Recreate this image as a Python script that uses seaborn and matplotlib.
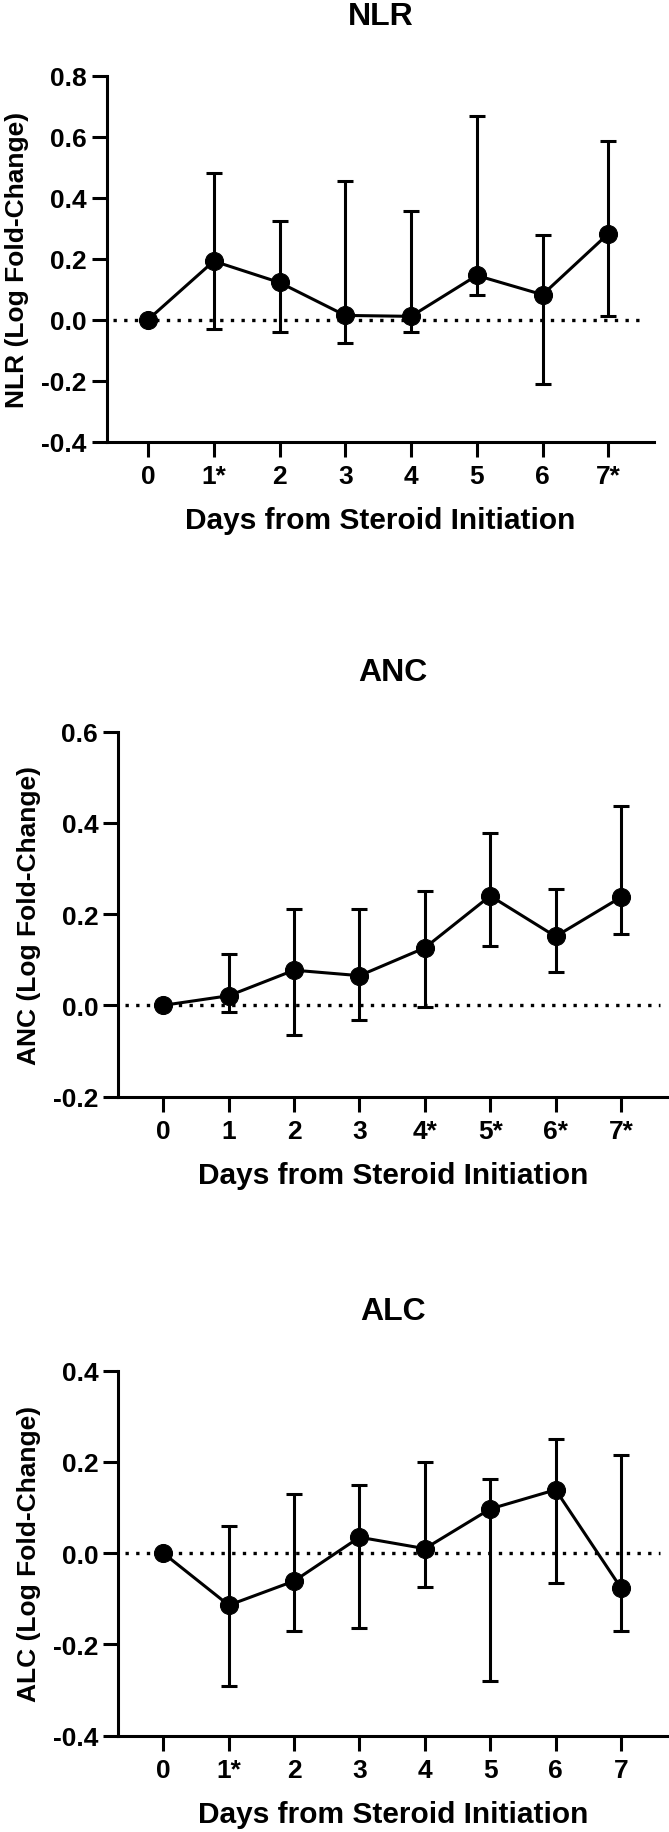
import numpy as np
import pandas as pd
import matplotlib
matplotlib.use("Agg")
import matplotlib.pyplot as plt
import seaborn as sns

# ---------------- data ----------------
days = [0, 1, 2, 3, 4, 5, 6, 7]
x_title = "Days from Steroid Initiation"

nlr_ticks = ["0", "1*", "2", "3", "4", "5", "6", "7*"]
nlr_mean = [0.0, 0.192, 0.122, 0.014, 0.011, 0.145, 0.082, 0.282]
nlr_upper = [0.0, 0.481, 0.325, 0.456, 0.357, 0.667, 0.278, 0.585]
nlr_lower = [0.0, -0.029, -0.041, -0.077, -0.039, 0.081, -0.212, 0.013]

anc_ticks = ["0", "1", "2", "3", "4*", "5*", "6*", "7*"]
anc_mean = [0.0, 0.021, 0.077, 0.065, 0.126, 0.240, 0.151, 0.237]
anc_upper = [0.0, 0.112, 0.212, 0.212, 0.250, 0.377, 0.254, 0.437]
anc_lower = [0.0, -0.014, -0.066, -0.032, -0.004, 0.129, 0.074, 0.157]

alc_ticks = ["0", "1*", "2", "3", "4", "5", "6", "7"]
alc_mean = [0.0, -0.114, -0.061, 0.035, 0.010, 0.097, 0.139, -0.076]
alc_upper = [0.0, 0.059, 0.129, 0.150, 0.200, 0.163, 0.250, 0.215]
alc_lower = [0.0, -0.291, -0.171, -0.164, -0.073, -0.280, -0.066, -0.171]

panels = [
    dict(name="NLR", ticks=nlr_ticks, mean=nlr_mean, up=nlr_upper, lo=nlr_lower,
         ylim=(-0.4, 0.8), yticks=[-0.4, -0.2, 0.0, 0.2, 0.4, 0.6, 0.8],
         box=(106.7, 654.0, 76.7, 442.7), xlim=(-0.628, 7.695)),
    dict(name="ANC", ticks=anc_ticks, mean=anc_mean, up=anc_upper, lo=anc_lower,
         ylim=(-0.2, 0.6), yticks=[-0.2, 0.0, 0.2, 0.4, 0.6],
         box=(118.3, 668.0, 732.7, 1097.5), xlim=(-0.69, 7.72)),
    dict(name="ALC", ticks=alc_ticks, mean=alc_mean, up=alc_upper, lo=alc_lower,
         ylim=(-0.4, 0.4), yticks=[-0.4, -0.2, 0.0, 0.2, 0.4],
         box=(118.3, 668.0, 1371.7, 1736.7), xlim=(-0.69, 7.72)),
]

# ---------------- style ----------------
sns.set_theme(style="ticks")
plt.rcParams["font.family"] = ["Liberation Sans", "DejaVu Sans"]
plt.rcParams["font.weight"] = "bold"
plt.rcParams["axes.labelweight"] = "bold"

W, H = 669, 1833
fig = plt.figure(figsize=(W / 100, H / 100), dpi=100)
fig.patch.set_facecolor("white")

LW = 2.2
for p in panels:
    l, r, t, b = p["box"]
    ax = fig.add_axes([l / W, 1 - b / H, (r - l) / W, (b - t) / H])
    ax.set_facecolor("white")
    df = pd.DataFrame({"day": days, "value": p["mean"], "upper": p["up"], "lower": p["lo"]})

    ax.axhline(0, xmin=0.012, xmax=0.985, color="black", lw=2.4,
               linestyle=(0, (1, 2.2)), zorder=1)
    ax.errorbar(df["day"], df["value"],
                yerr=[df["value"] - df["lower"], df["upper"] - df["value"]],
                fmt="none", ecolor="black", elinewidth=LW, capsize=5.8,
                capthick=LW, zorder=2)
    sns.lineplot(data=df, x="day", y="value", ax=ax, color="black",
                 linewidth=LW, marker="o", markersize=13,
                 markeredgecolor="black", markerfacecolor="black", zorder=3)

    ax.set_xlim(*p["xlim"])
    ax.set_ylim(*p["ylim"])
    ax.set_xticks(days)
    ax.set_xticklabels(p["ticks"])
    ax.set_yticks(p["yticks"])
    ax.set_yticklabels([f"{v:.1f}" for v in p["yticks"]])
    sns.despine(ax=ax)
    for s in ("left", "bottom"):
        ax.spines[s].set_linewidth(LW)
        ax.spines[s].set_color("black")
    ax.tick_params(axis="both", length=11, width=LW, color="black",
                   labelsize=19, labelcolor="black")
    ax.tick_params(axis="x", pad=5.0)
    ax.tick_params(axis="y", pad=3.5)
    for lab in ax.get_xticklabels() + ax.get_yticklabels():
        lab.set_fontweight("bold")

    ax_h = b - t
    ax_w = r - l
    ax.set_xlabel(x_title, fontsize=21.5, fontweight="bold", color="black")
    ax.xaxis.label.set_va("center")
    ax.xaxis.set_label_coords(0.5, -78.5 / ax_h)
    ax.set_ylabel(f"{p['name']} (Log Fold-Change)", fontsize=19,
                  fontweight="bold", color="black")
    ax.yaxis.label.set_va("center")
    ax.yaxis.set_label_coords(-89.7 / ax_w, 0.5)
    ax.text(0.5, 1 + 59.5 / ax_h, p["name"], transform=ax.transAxes,
            ha="center", va="center", fontsize=23, fontweight="bold",
            color="black")

fig.savefig("out.png", dpi=100, facecolor="white")
